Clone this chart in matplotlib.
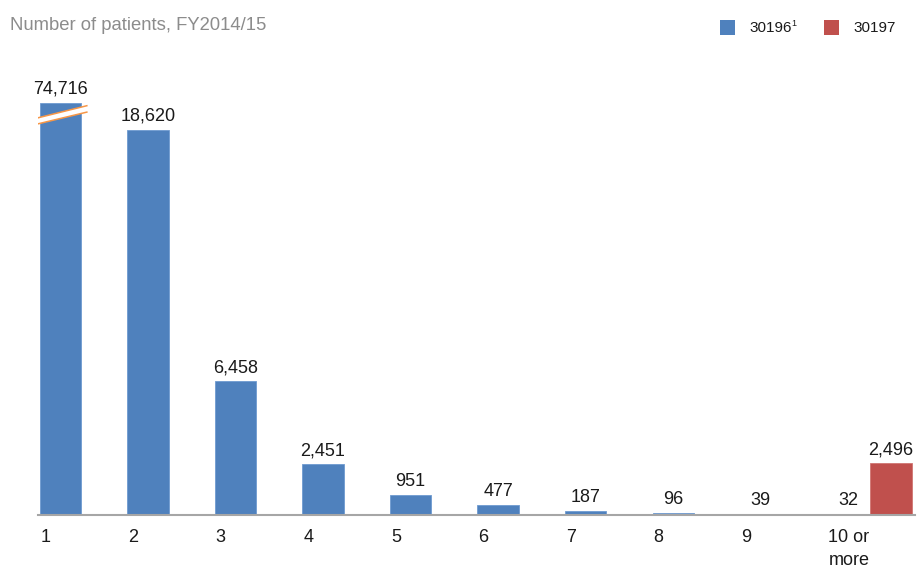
import numpy as np
import matplotlib.pyplot as plt
from matplotlib.patches import Rectangle, Polygon

plt.rcParams['font.family'] = ['Liberation Sans', 'DejaVu Sans']

# data
categories = ['1', '2', '3', '4', '5', '6', '7', '8', '9', '10 or\nmore']
counts_30196 = [74716, 18620, 6458, 2451, 951, 477, 187, 96, 39, 32]
counts_30197 = [2496]  # only for "10 or more"
value_labels_30196 = ['74,716', '18,620', '6,458', '2,451', '951', '477', '187', '96', '39', '32']
value_labels_30197 = ['2,496']

blue = '#4F81BD'
red = '#C0504D'
axis_grey = '#A6A6A6'

cap = 19920  # display cap for the broken first bar
bar_w = 0.47


def main():
    fig = plt.figure(figsize=(9.17, 5.68), dpi=100)
    ax = fig.add_axes([0.0414, 0.0933, 0.9566, 0.7646])

    x = np.arange(len(categories))
    shown = [min(v, cap) for v in counts_30196]
    ax.bar(x, shown, width=bar_w, color=blue, edgecolor='#6E9AD0', linewidth=0.6, zorder=2)
    x_red = x[-1] + 0.49
    ax.bar([x_red], counts_30197, width=bar_w, color=red, edgecolor='#D07572', linewidth=0.6, zorder=2)

    # value labels
    for xi, h, lab in zip(x, shown, value_labels_30196):
        ax.text(xi, h + 250, lab, ha='center', va='bottom', fontsize=13, color='#1a1a1a')
    ax.text(x_red, counts_30197[0] + 250, value_labels_30197[0], ha='center', va='bottom',
            fontsize=13, color='#1a1a1a')

    # axis break on the first bar
    xb = np.array([-0.31, 0.31])
    y_low = np.array([18860, 19490])
    y_up = np.array([19150, 19800])
    ax.add_patch(Polygon([[xb[0], y_low[0]], [xb[1], y_low[1]], [xb[1], y_up[1]], [xb[0], y_up[0]]],
                         closed=True, facecolor='white', edgecolor='none', zorder=3))
    ax.plot(xb, y_low, color='#F79646', lw=1.1, zorder=4, solid_capstyle='butt')
    ax.plot(xb, y_up, color='#F79646', lw=1.1, zorder=4, solid_capstyle='butt')

    ax.set_xlim(-0.257, 9.766)
    ax.set_ylim(0, 21000)
    for s in ['top', 'right', 'left']:
        ax.spines[s].set_visible(False)
    ax.spines['bottom'].set_color(axis_grey)
    ax.spines['bottom'].set_linewidth(1.5)
    ax.set_yticks([])
    ax.set_xticks([])

    # category labels, left aligned under each bar
    for xi, lab in zip(x, categories):
        ax.text(xi - bar_w / 2 + 0.01, -700, lab, ha='left', va='top', fontsize=13,
                color='#1a1a1a', multialignment='center', linespacing=1.45)

    # title
    fig.text(10 / 917, 1 - 26 / 568, 'Number of patients, FY2014/15', ha='left', va='center',
             fontsize=13.3, color='#8C8C8C')

    # legend
    fig.patches.append(Rectangle((720 / 917, 1 - 35 / 568), 15 / 917, 15 / 568,
                                 transform=fig.transFigure, facecolor=blue, edgecolor='none'))
    fig.text(749 / 917, 1 - 27.5 / 568, '30196', ha='left', va='center', fontsize=11, color='#1a1a1a')
    fig.text(791 / 917, 1 - 24 / 568, '1', ha='left', va='center', fontsize=6.5, color='#1a1a1a')
    fig.patches.append(Rectangle((824 / 917, 1 - 35 / 568), 15 / 917, 15 / 568,
                                 transform=fig.transFigure, facecolor=red, edgecolor='none'))
    fig.text(853 / 917, 1 - 27.5 / 568, '30197', ha='left', va='center', fontsize=11, color='#1a1a1a')

    fig.savefig('out.png', dpi=100)


if __name__ == "__main__":
    main()
